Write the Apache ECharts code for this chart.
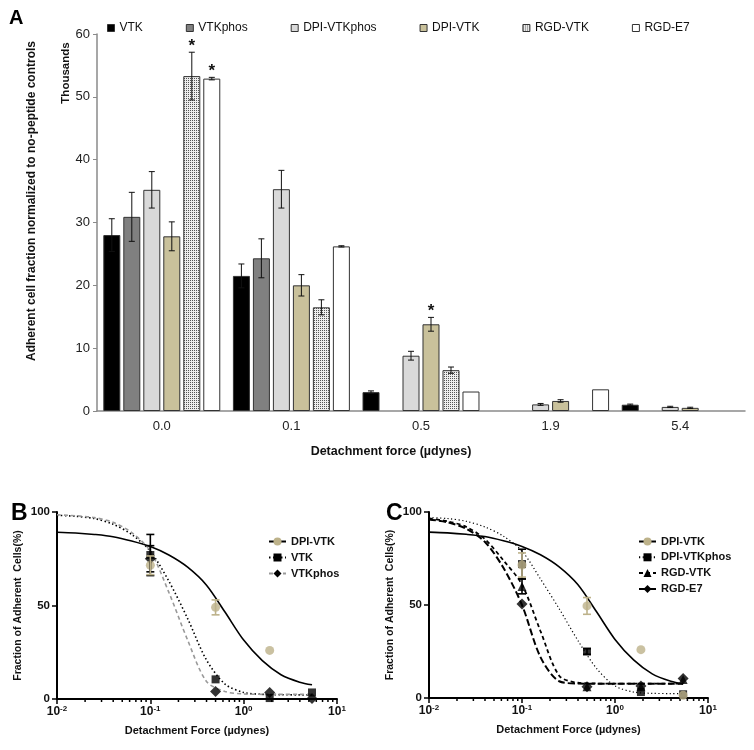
<!DOCTYPE html>
<html><head><meta charset="utf-8">
<script src="https://cdn.jsdelivr.net/npm/echarts@6/dist/echarts.min.js"></script>
<style>html,body{margin:0;padding:0;background:#fff}#c{width:754px;height:750px}</style>
</head><body><div id="c"></div>
<script>
// ---------- Panel A (bars) ----------
const forceCats = ['0.0', '0.1', '0.5', '1.9', '5.4'];
const barNames = ['VTK', 'VTKphos', 'DPI-VTKphos', 'DPI-VTK', 'RGD-VTK', 'RGD-E7'];
const vtkBar        = [28.0, 21.5, 3.0, null, 1.0];
const vtkphosBar    = [30.9, 24.3, null, null, null];
const dpiVtkphosBar = [35.2, 35.3, 8.8, 1.05, 0.65];
const dpiVtkBar     = [27.8, 20.0, 13.8, 1.6, 0.5];
const rgdVtkBar     = [53.3, 16.5, 6.5, null, null];
const rgdE7Bar      = [52.9, 26.2, 3.1, 3.45, null];
const vtkErr        = [2.6, 1.9, 0.2, null, 0.1];
const vtkphosErr    = [3.9, 3.1, null, null, null];
const dpiVtkphosErr = [2.9, 3.0, 0.7, 0.15, 0.1];
const dpiVtkErr     = [2.3, 1.7, 1.1, 0.2, 0.1];
const rgdVtkErr     = [3.8, 1.2, 0.5, null, null];
const rgdE7Err      = [0.2, 0.1, null, null, null];
const vtkSig        = [0, 0, 0, 0, 0];
const vtkphosSig    = [0, 0, 0, 0, 0];
const dpiVtkphosSig = [0, 0, 0, 0, 0];
const dpiVtkSig     = [0, 0, 1, 0, 0];
const rgdVtkSig     = [1, 0, 0, 0, 0];
const rgdE7Sig      = [1, 0, 0, 0, 0];
const yTicksA = [0, 10, 20, 30, 40, 50, 60];

// ---------- Panel B ----------
const bDpiVtkX = [0.1, 0.5, 1.9];
const bDpiVtkY = [71.5, 49, 26];
const bDpiVtkE = [5, 4, 0];
const bVtkX = [0.1, 0.5, 1.9, 5.4];
const bVtkY = [77, 10.5, 0.5, 3.5];
const bVtkE = [11, 0, 0, 0];
const bVtkphosX = [0.1, 0.5, 1.9, 5.4];
const bVtkphosY = [75, 4, 3.5, 0.3];
const bVtkphosE = [7, 0, 0, 0];
// fitted curves at these forces
const curveX = [0.01, 0.0158, 0.0251, 0.0398, 0.0631, 0.1, 0.158, 0.251, 0.398, 0.631, 1.0, 1.585, 2.512, 3.98, 5.4];
const fitDpiVtkY     = [89.2, 88.8, 88.0, 86.8, 84.5, 81.5, 77.0, 70.5, 61.0, 46.5, 31.5, 20.5, 13.0, 9.0, 7.6];
const fitBVtkY       = [98.2, 97.7, 96.5, 93.5, 88.0, 79.0, 63.0, 43.0, 21.0, 8.0, 3.5, 2.5, 2.3, 2.2, 2.2];
const fitBVtkphosY   = [98.5, 98.0, 97.0, 94.5, 89.0, 79.0, 57.0, 31.5, 9.5, 4.0, 2.7, 2.5, 2.5, 2.5, 2.5];

// ---------- Panel C ----------
const cDpiVtkX = [0.1, 0.5, 1.9, 5.4];
const cDpiVtkY = [71.5, 49.5, 26, 1.5];
const cDpiVtkE = [6.5, 4.5, 0, 0];
const cDpiVtkphosX = [0.1, 0.5, 1.9, 5.4];
const cDpiVtkphosY = [72, 25, 3.2, 2];
const cDpiVtkphosE = [8, 1.5, 0, 0];
const cRgdVtkX = [0.1, 0.5, 1.9, 5.4];
const cRgdVtkY = [60, 6, 6, 10];
const cRgdVtkE = [4, 0, 0, 0];
const cRgdE7X = [0.1, 0.5, 1.9, 5.4];
const cRgdE7Y = [50.5, 6, 6.5, 10.5];
const cRgdE7E = [0, 0, 0, 0];
const fitCDpiVtkphosY = [97.0, 96.5, 95.0, 92.0, 87.0, 79.0, 64.0, 48.0, 31.0, 16.0, 6.5, 3.2, 2.5, 2.4, 2.4];
const fitCRgdVtkY     = [96.5, 95.0, 92.0, 85.5, 74.0, 61.0, 36.0, 12.0, 8.2, 7.8, 7.7, 7.7, 7.7, 7.7, 7.7];
const fitCRgdE7Y      = [96.0, 94.5, 91.0, 84.0, 70.0, 50.0, 22.0, 9.0, 7.8, 7.7, 7.7, 7.7, 7.7, 7.7, 7.7];
const logTicks = [0.01, 0.1, 1, 10];

// ---------- helpers ----------
const F = '"Liberation Sans", Arial, sans-serif';
const TAN = '#bdb28a';
const zip = (xs, ys) => xs.map((x, i) => [x, ys[i]]);
const zip3 = (xs, ys, es, c) => xs.map((x, i) => [x, ys[i], es[i], c]).filter(r => r[2] > 0);

const pc = document.createElement('canvas'); pc.width = 4; pc.height = 4;
const g = pc.getContext('2d');
g.fillStyle = '#eeeeee'; g.fillRect(0, 0, 4, 4);
g.fillStyle = '#555555'; g.fillRect(0, 0, 1, 1); g.fillRect(2, 2, 1, 1); g.fillRect(2, 0, 1, 1); g.fillRect(0, 2, 1, 1);
const pattern = { image: pc, repeat: 'repeat' };

const barData = [vtkBar, vtkphosBar, dpiVtkphosBar, dpiVtkBar, rgdVtkBar, rgdE7Bar];
const barErr = [vtkErr, vtkphosErr, dpiVtkphosErr, dpiVtkErr, rgdVtkErr, rgdE7Err];
const barSig = [vtkSig, vtkphosSig, dpiVtkphosSig, dpiVtkSig, rgdVtkSig, rgdE7Sig];
const barColors = ['#000000', '#808080', '#d9d9d9', '#c9c19b', pattern, '#ffffff'];

const barSeries = barNames.map((n, i) => ({
  name: n, type: 'bar', xAxisIndex: 0, yAxisIndex: 0, data: barData[i],
  barWidth: 17, barGap: '17.6%',
  itemStyle: { color: barColors[i], borderColor: '#333', borderWidth: 1 }, z: 2
}));

const aErrRows = [];
barData.forEach((arr, i) => arr.forEach((v, c) => {
  const e = barErr[i][c];
  if (v != null && e != null) aErrRows.push([c, v, e, i, barSig[i][c]]);
}));

function renderBarErr(params, api) {
  const c = api.value(0), v = api.value(1), e = api.value(2), i = api.value(3), s = api.value(4);
  const cx = api.coord([c, v])[0] + (i - 2.5) * 20;
  const yt = api.coord([c, v + e])[1], yb = api.coord([c, v - e])[1];
  const st = { stroke: '#111', lineWidth: 1 };
  const ch = [
    { type: 'line', shape: { x1: cx, y1: yt, x2: cx, y2: yb }, style: st },
    { type: 'line', shape: { x1: cx - 3, y1: yt, x2: cx + 3, y2: yt }, style: st },
    { type: 'line', shape: { x1: cx - 3, y1: yb, x2: cx + 3, y2: yb }, style: st }
  ];
  if (s) ch.push({ type: 'text', x: cx, y: yt - 6, style: { text: '*', align: 'center', verticalAlign: 'middle', font: 'bold 17px ' + F, fill: '#111' } });
  return { type: 'group', children: ch };
}

function renderPtErr(params, api) {
  const x = api.value(0), y = api.value(1), e = api.value(2), col = api.value(3) ? TAN : '#000';
  const p = api.coord([x, y + e]), q = api.coord([x, y - e]);
  const st = { stroke: col, lineWidth: 1.6 };
  return { type: 'group', children: [
    { type: 'line', shape: { x1: p[0], y1: p[1], x2: q[0], y2: q[1] }, style: st },
    { type: 'line', shape: { x1: p[0] - 4, y1: p[1], x2: p[0] + 4, y2: p[1] }, style: st },
    { type: 'line', shape: { x1: q[0] - 4, y1: q[1], x2: q[0] + 4, y2: q[1] }, style: st }
  ]};
}

// minor ticks for the log axes (2..9 within each decade)
const minorVals = [];
for (let k = 0; k < logTicks.length - 1; k++) for (let m = 2; m <= 9; m++) minorVals.push(logTicks[k] * m);
function renderMinor(params, api) {
  const p = api.coord([api.value(0), 0]);
  return { type: 'line', shape: { x1: p[0], y1: p[1], x2: p[0], y2: p[1] + 3 }, style: { stroke: '#000', lineWidth: 1.5 } };
}

const logAxis = (gi) => ({
  type: 'log', logBase: 10, gridIndex: gi, min: 0.01, max: 10, splitNumber: 3,
  name: 'Detachment Force (\u00b5dynes)', nameLocation: 'middle', nameGap: 26,
  nameTextStyle: { fontFamily: F, fontWeight: 'bold', fontSize: 11, color: '#111' },
  axisLine: { lineStyle: { color: '#000', width: 2 } },
  axisTick: { length: 5, lineStyle: { width: 1.5, color: '#000' } },
  splitLine: { show: false },
  axisLabel: {
    margin: 6, color: '#111',
    formatter: v => { const e = Math.round(Math.log10(v)); return '{b|10}{s|' + e + '}'; },
    rich: {
      b: { fontFamily: F, fontWeight: 'bold', fontSize: 12, color: '#111' },
      s: { fontFamily: F, fontWeight: 'bold', fontSize: 8, color: '#111', verticalAlign: 'top', padding: [0, 0, 6, 0] }
    }
  }
});
const pctAxis = (gi) => ({
  type: 'value', gridIndex: gi, min: 0, max: 100, interval: 50,
  name: 'Fraction of Adherent  Cells(%)', nameLocation: 'middle', nameGap: 33,
  nameTextStyle: { fontFamily: F, fontWeight: 'bold', fontSize: 10.5, color: '#111' },
  axisLine: { show: true, lineStyle: { color: '#000', width: 2 } },
  axisTick: { show: true, length: 5, lineStyle: { width: 1.5, color: '#000' } },
  splitLine: { show: false },
  axisLabel: { fontFamily: F, fontWeight: 'bold', fontSize: 11.5, color: '#111', margin: 7 }
});

const curve = (name, gi, xs, ys, ls, symbol, symCol) => ({
  name, type: 'line', xAxisIndex: gi, yAxisIndex: gi, data: zip(xs, ys),
  smooth: 0.3, showSymbol: false, symbol, symbolSize: 8,
  itemStyle: { color: symCol }, lineStyle: ls, z: 2, silent: true
});
const pts = (name, gi, xs, ys, symbol, col, size) => ({
  name, type: 'scatter', xAxisIndex: gi, yAxisIndex: gi, data: zip(xs, ys),
  symbol, symbolSize: size, itemStyle: { color: col }, z: 4
});

const option = {
  animation: false,
  backgroundColor: '#ffffff',
  textStyle: { fontFamily: F },
  grid: [
    { left: 97, top: 34, width: 648, height: 377 },
    { left: 57, top: 512, width: 280, height: 187 },
    { left: 429, top: 512, width: 279, height: 186 }
  ],
  xAxis: [
    { type: 'category', gridIndex: 0, data: forceCats,
      axisLine: { lineStyle: { color: '#8a8a8a', width: 1.5 } },
      axisTick: { length: 4, lineStyle: { color: '#8a8a8a' } },
      axisLabel: { fontFamily: F, fontSize: 13, color: '#222', margin: 9 } },
    logAxis(1), logAxis(2)
  ],
  yAxis: [
    { type: 'value', gridIndex: 0, min: yTicksA[0], max: yTicksA[yTicksA.length - 1], interval: 10,
      axisLine: { show: true, lineStyle: { color: '#8a8a8a', width: 1.5 } },
      axisTick: { show: true, length: 4, lineStyle: { color: '#8a8a8a' } },
      splitLine: { show: false },
      axisLabel: { fontFamily: F, fontSize: 13, color: '#222', margin: 7 } },
    pctAxis(1), pctAxis(2)
  ],
  legend: [
    { data: barNames, left: 102, top: 17, icon: 'rect', itemWidth: 7, itemHeight: 7, itemGap: 43,
      itemStyle: { borderColor: '#333', borderWidth: 1 },
      textStyle: { fontFamily: F, fontSize: 12, color: '#111' }, selectedMode: false },
    { data: ['B|DPI-VTK', 'B|VTK', 'B|VTKphos'], orient: 'vertical', left: 263, top: 531,
      itemWidth: 17, itemHeight: 10, itemGap: 5, selectedMode: false,
      formatter: n => n.split('|')[1],
      textStyle: { fontFamily: F, fontWeight: 'bold', fontSize: 11, color: '#111' } },
    { data: ['C|DPI-VTK', 'C|DPI-VTKphos', 'C|RGD-VTK', 'C|RGD-E7'], orient: 'vertical', left: 633, top: 531,
      itemWidth: 17, itemHeight: 10, itemGap: 4.8, selectedMode: false,
      formatter: n => n.split('|')[1],
      textStyle: { fontFamily: F, fontWeight: 'bold', fontSize: 11, color: '#111' } }
  ],
  graphic: [
    { type: 'text', left: 9, top: 8, style: { text: 'A', font: 'bold 20px ' + F, fill: '#000' } },
    { type: 'text', left: 11, top: 502, style: { text: 'B', font: 'bold 23px ' + F, fill: '#000' } },
    { type: 'text', left: 386, top: 502, style: { text: 'C', font: 'bold 23px ' + F, fill: '#000' } },
    { type: 'text', x: 32, y: 201, rotation: Math.PI / 2,
      style: { text: 'Adherent cell fraction normalized to no-peptide controls', align: 'center', verticalAlign: 'middle', font: 'bold 12px ' + F, fill: '#111' } },
    { type: 'text', x: 66, y: 73, rotation: Math.PI / 2,
      style: { text: 'Thousands', align: 'center', verticalAlign: 'middle', font: 'bold 11.5px ' + F, fill: '#111' } },
    { type: 'text', x: 391, y: 452,
      style: { text: 'Detachment force (\u00b5dynes)', align: 'center', verticalAlign: 'middle', font: 'bold 12.5px ' + F, fill: '#111' } }
  ],
  series: [
    ...barSeries,
    { type: 'custom', name: 'errA', xAxisIndex: 0, yAxisIndex: 0, data: aErrRows, renderItem: renderBarErr, z: 5, silent: true },
    // Panel B
    curve('B|DPI-VTK', 1, curveX, fitDpiVtkY, { color: '#000', width: 1.6, type: 'solid' }, 'circle', TAN),
    curve('B|VTK', 1, curveX, fitBVtkY, { color: '#000', width: 1.6, type: [1.5, 2.5] }, 'rect', '#000'),
    curve('B|VTKphos', 1, curveX, fitBVtkphosY, { color: '#999', width: 1.6, type: [4, 3] }, 'diamond', '#000'),
    pts('bp1', 1, bVtkphosX, bVtkphosY, 'diamond', '#000', 11),
    pts('bp2', 1, bVtkX, bVtkY, 'rect', '#000', 8),
    pts('bp3', 1, bDpiVtkX, bDpiVtkY, 'circle', TAN, 9),
    { type: 'custom', name: 'errB', xAxisIndex: 1, yAxisIndex: 1, renderItem: renderPtErr, z: 5, silent: true,
      data: [...zip3(bVtkX, bVtkY, bVtkE, 0), ...zip3(bVtkphosX, bVtkphosY, bVtkphosE, 0), ...zip3(bDpiVtkX, bDpiVtkY, bDpiVtkE, 1)] },
    { type: 'custom', name: 'minorB', xAxisIndex: 1, yAxisIndex: 1, renderItem: renderMinor, clip: false, silent: true,
      data: minorVals.map(v => [v, 0]) },
    // Panel C
    curve('C|DPI-VTK', 2, curveX, fitDpiVtkY, { color: '#000', width: 1.6, type: 'solid' }, 'circle', TAN),
    curve('C|DPI-VTKphos', 2, curveX, fitCDpiVtkphosY, { color: '#000', width: 1.2, type: [1.2, 2.5] }, 'rect', '#000'),
    curve('C|RGD-VTK', 2, curveX, fitCRgdVtkY, { color: '#000', width: 1.8, type: [4, 3] }, 'triangle', '#000'),
    curve('C|RGD-E7', 2, curveX, fitCRgdE7Y, { color: '#000', width: 2, type: [7, 3] }, 'diamond', '#000'),
    pts('cp1', 2, cRgdVtkX, cRgdVtkY, 'triangle', '#000', 9),
    pts('cp2', 2, cDpiVtkphosX, cDpiVtkphosY, 'rect', '#000', 8),
    pts('cp3', 2, cRgdE7X, cRgdE7Y, 'diamond', '#000', 11),
    pts('cp4', 2, cDpiVtkX, cDpiVtkY, 'circle', TAN, 9),
    { type: 'custom', name: 'errC', xAxisIndex: 2, yAxisIndex: 2, renderItem: renderPtErr, z: 5, silent: true,
      data: [...zip3(cDpiVtkphosX, cDpiVtkphosY, cDpiVtkphosE, 0), ...zip3(cRgdVtkX, cRgdVtkY, cRgdVtkE, 0), ...zip3(cDpiVtkX, cDpiVtkY, cDpiVtkE, 1)] },
    { type: 'custom', name: 'minorC', xAxisIndex: 2, yAxisIndex: 2, renderItem: renderMinor, clip: false, silent: true,
      data: minorVals.map(v => [v, 0]) }
  ]
};
const chart = echarts.init(document.getElementById('c'));
chart.setOption(option);
</script></body></html>
